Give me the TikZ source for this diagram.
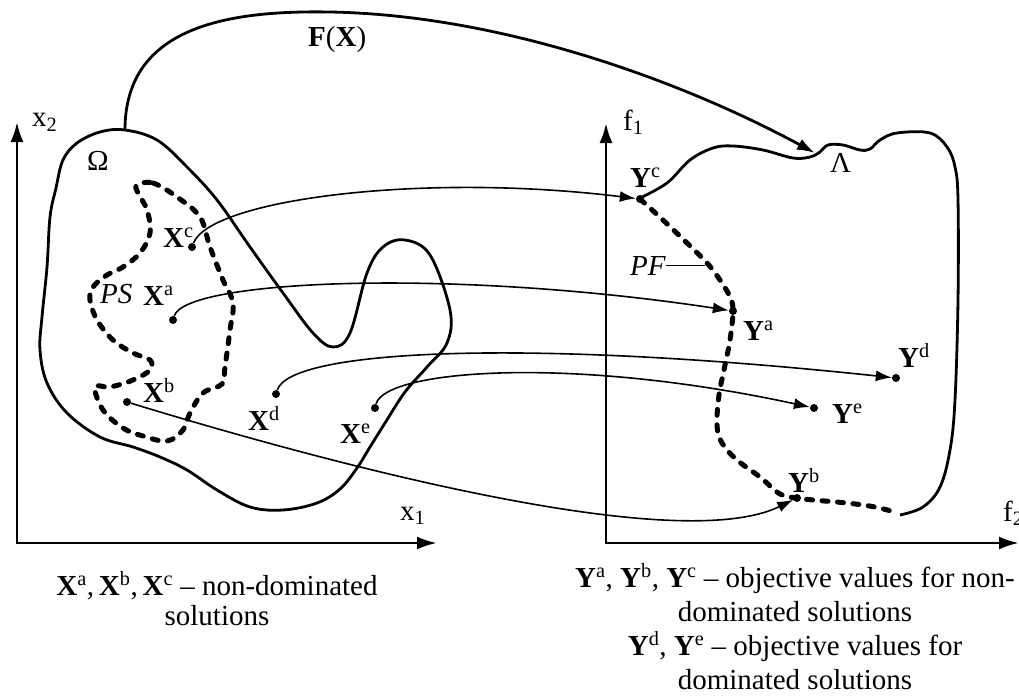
\documentclass[tikz,border=0pt]{standalone}
\usepackage{fontspec}
\setmainfont{Liberation Serif}
\usetikzlibrary{arrows.meta}

\newcommand{\solX}[1]{\textbf{X}\textsuperscript{#1}}
\newcommand{\objY}[1]{\textbf{Y}\textsuperscript{#1}}

\begin{document}
\begin{tikzpicture}[x=1pt,y=-1pt,
  every node/.style={font=\fontsize{29}{34}\selectfont},
  lbl/.style={anchor=base west,inner sep=0pt},
  dot/.style={circle,fill,inner sep=0pt,minimum size=8pt},
  axis/.style={line width=2.8pt,{Latex[length=20pt,width=13pt]}-{Latex[length=20pt,width=13pt]}},
  border/.style={line width=2.8pt},
  front/.style={line width=5pt,line cap=round,dash pattern=on 6pt off 9.5pt},
  map/.style={line width=1.6pt,-{Latex[length=16pt,width=11pt]}}]
\useasboundingbox (0,0) rectangle (1019,698);

% decision space
\coordinate (x2end) at (17,122);
\coordinate (o1) at (17,543);
\coordinate (x1end) at (437,543);
\draw[axis] (x2end) -- (o1) -- (x1end);
\node[lbl] (x2) at (32,127) {x\textsubscript{2}};
\node[lbl] (x1) at (400,520) {x\textsubscript{1}};

% feasible region Omega
\draw[border] plot[smooth cycle,tension=0.6] coordinates {(125,130) (157,140) (187,167) (217,200)
  (250,247) (283,293) (313,333) (333,347) (350,333) (367,273) (383,247) (405,240) (430,255)
  (450,310) (447,343) (427,367) (405,392) (385,423) (370,447) (357,468) (340,489) (317,503)
  (283,510) (250,507) (217,490) (187,470) (160,457) (133,447) (100,437) (67,413) (47,383)
  (40,350) (42,317) (47,267) (50,217) (56,188) (63,160) (77,143) (100,132)};
\node[lbl] (omega) at (87,170) {Ω};

% Pareto set
\draw[front] plot[smooth cycle,tension=0.6] coordinates {(137,185) (153,183) (177,197) (200,217)
  (210,247) (223,280) (233,303) (230,330) (225,367) (222,384) (203,393) (190,413) (183,430)
  (167,441) (143,436) (123,428) (103,410) (95,387) (110,387) (133,380) (150,370) (150,360)
  (133,353) (113,340) (97,320) (90,300) (93,287) (107,275) (123,267) (140,253) (150,233)
  (147,210) (138,193)};
\node[lbl] (ps) at (100,303) {\textit{PS}};

\node[dot] (xc) at (192,247) {};
\node[dot] (xa) at (173,320) {};
\node[dot] (xb) at (127,402) {};
\node[dot] (xd) at (276,394) {};
\node[dot] (xe) at (375,408) {};
\node[lbl] (lxc) at (163,247) {\solX{c}};
\node[lbl] (lxa) at (143,305) {\solX{a}};
\node[lbl] (lxb) at (143,402) {\solX{b}};
\node[lbl] (lxd) at (248,430) {\solX{d}};
\node[lbl] (lxe) at (340,443) {\solX{e}};

% objective space
\coordinate (f1end) at (606,123);
\coordinate (o2) at (606,543);
\coordinate (f2end) at (1019,543);
\draw[axis] (f1end) -- (o2) -- (f2end);
\node[lbl] (f1) at (623,130) {f\textsubscript{1}};
\node[lbl] (f2) at (1003,521) {f\textsubscript{2}};

% image Lambda
\draw[border] plot[smooth,tension=0.6] coordinates {(640,198) (667,183) (690,160) (713,148)
  (733,146) (763,150) (793,158) (810,157) (820,152) (828,145) (843,145) (860,150) (870,149)
  (880,140) (897,133) (930,133) (947,147) (955,167) (958,200) (958,300) (955,400) (950,450)
  (940,487) (923,507) (900,515)};
\node[lbl] (lambda) at (830,172) {Λ};

% Pareto front
\draw[front] plot[smooth,tension=0.6] coordinates {(640,199) (663,220) (687,243) (707,263)
  (720,280) (730,297) (733,311) (730,340) (724,370) (719,395) (717,425) (722,443) (737,460)
  (760,477) (780,494) (797,498) (813,500) (847,503) (875,507) (898,513)};
\node[lbl] (pf) at (630,275) {\textit{PF}};
\coordinate (pfend) at (705,262);
\draw[line width=1.6pt] (pf.east) -- (pf.east -| pfend);

\node[dot] (yc) at (640,199) {};
\node[dot] (ya) at (733,311) {};
\node[dot] (yb) at (797,498) {};
\node[dot] (yd) at (896,378) {};
\node[dot] (ye) at (814,408) {};
\node[lbl] (lyc) at (630,187) {\objY{c}};
\node[lbl] (lya) at (743,340) {\objY{a}};
\node[lbl] (lyb) at (788,492) {\objY{b}};
\node[lbl] (lyd) at (898,367) {\objY{d}};
\node[lbl] (lye) at (832,423) {\objY{e}};

% mappings
\coordinate (omtop) at (125,130);
\coordinate (lamtip) at (815,153);
\draw[border,-{Latex[length=18pt,width=12pt]}] (omtop) .. controls (125,30) and (220,10) .. (330,12)
  .. controls (500,15) and (680,80) .. (lamtip);
\node[lbl] (fx) at (308,47) {\textbf{F}(\textbf{X})};
\draw[map] (xc) .. controls (210,200) and (420,172) .. (yc);
\draw[map] (xa) .. controls (185,280) and (450,268) .. (ya);
\draw[map] (xd) .. controls (290,350) and (520,338) .. (yd);
\draw[map] (xe) .. controls (385,370) and (570,355) .. (ye);
\draw[map] (xb) .. controls (350,470) and (680,555) .. (yb);

% captions
\node[anchor=base,align=center,inner sep=0pt,font=\fontsize{29}{30}\selectfont] (capx) at (217,625)
  {\solX{a},\,\solX{b},\,\solX{c} -- non-dominated\\solutions};
\node[anchor=base,align=center,inner sep=0pt] (capy) at (795,689)
  {\objY{a}, \objY{b}, \objY{c} -- objective values for non-\\dominated solutions\\
   \objY{d}, \objY{e} -- objective values for\\dominated solutions};
\end{tikzpicture}
\end{document}
